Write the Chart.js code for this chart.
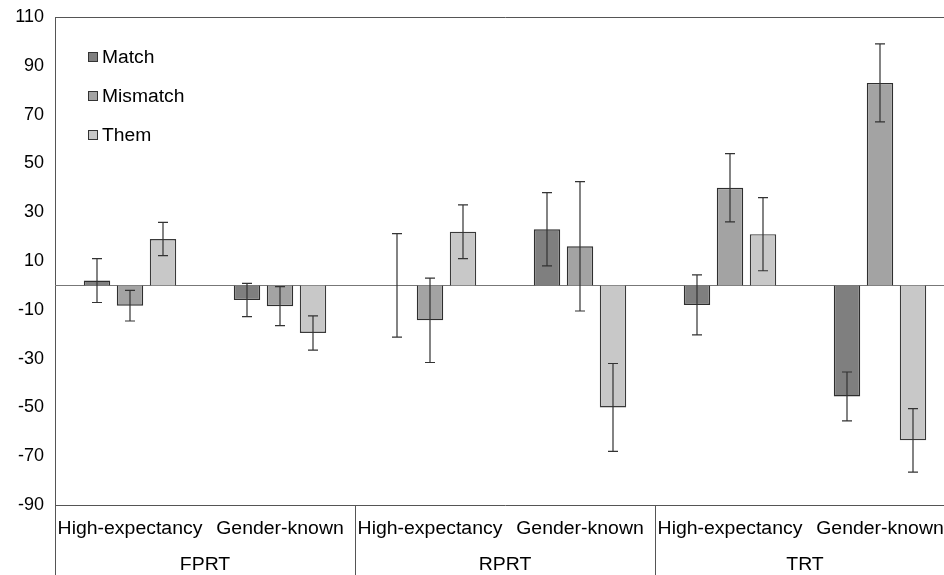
<!DOCTYPE html>
<html>
<head>
<meta charset="utf-8">
<script src="https://cdn.jsdelivr.net/npm/chart.js@4.4.1/dist/chart.umd.min.js"></script>
<style>
  html, body { margin: 0; padding: 0; background: #fff; overflow: hidden; width: 944px; height: 575px; }
  #wrap { width: 960px; height: 575px; }
</style>
</head>
<body>
<div id="wrap"><canvas id="c" width="960" height="575"></canvas></div>
<script>
// ---- Data ----
const categories = ["High-expectancy", "Gender-known", "High-expectancy", "Gender-known", "High-expectancy", "Gender-known"];
const groups = ["FPRT", "RPRT", "TRT"];
const seriesNames = ["Match", "Mismatch", "Them"];
const matchValues    = [2, -6, 0, 23, -8, -45.5];
const mismatchValues = [-8.3, -8.5, -14.3, 16, 40, 83];
const themValues     = [19, -19.5, 22, -50, 21, -63.5];
const matchErrors    = [9, 6.8, 21.2, 15, 12.3, 10];
const mismatchErrors = [6.3, 8, 17.3, 26.5, 14, 16];
const themErrors     = [6.8, 7, 11, 18, 15, 13];
const yTicks = [-90, -70, -50, -30, -10, 10, 30, 50, 70, 90, 110];

const colors = ["#7f7f7f", "#a3a3a3", "#c8c8c8"];
const errs = [matchErrors, mismatchErrors, themErrors];
const FONT = '"Liberation Sans", Arial, sans-serif';

const errorBarPlugin = {
  id: 'errorBars',
  afterDatasetsDraw(chart) {
    const ctx = chart.ctx;
    const y = chart.scales.y;
    ctx.save();
    ctx.strokeStyle = '#333';
    ctx.lineWidth = 1.2;
    chart.data.datasets.forEach((ds, di) => {
      const meta = chart.getDatasetMeta(di);
      meta.data.forEach((bar, i) => {
        const v = ds.data[i], e = errs[di][i];
        const x = bar.x;
        const yt = y.getPixelForValue(v + e);
        const yb = y.getPixelForValue(v - e);
        ctx.beginPath();
        ctx.moveTo(x, yt); ctx.lineTo(x, yb);
        ctx.moveTo(x - 5, yt); ctx.lineTo(x + 5, yt);
        ctx.moveTo(x - 5, yb); ctx.lineTo(x + 5, yb);
        ctx.stroke();
      });
    });
    ctx.restore();
  }
};

function stretchedText(ctx, text, cx, cy, sx, align) {
  ctx.save();
  ctx.translate(cx, cy);
  ctx.scale(sx, 1);
  ctx.textAlign = align;
  ctx.fillText(text, 0, 0);
  ctx.restore();
}

const axisLabelPlugin = {
  id: 'axisLabels',
  afterDraw(chart) {
    const ctx = chart.ctx;
    const area = chart.chartArea;
    const x = chart.scales.x;
    const H = chart.height;
    ctx.save();
    ctx.strokeStyle = '#555';
    ctx.lineWidth = 1;
    const half = (x.getPixelForValue(1) - x.getPixelForValue(0)) / 2;
    const divs = [x.getPixelForValue(0) - half, x.getPixelForValue(2) - half, x.getPixelForValue(4) - half, x.getPixelForValue(5) + half];
    divs.forEach(d => {
      ctx.beginPath();
      ctx.moveTo(Math.round(d) + 0.5, area.bottom);
      ctx.lineTo(Math.round(d) + 0.5, H);
      ctx.stroke();
    });
    ctx.fillStyle = '#000';
    ctx.font = '18px ' + FONT;
    ctx.textBaseline = 'middle';
    categories.forEach((c, i) => {
      stretchedText(ctx, c, x.getPixelForValue(i), area.bottom + 24, 1.08, 'center');
    });
    groups.forEach((g, gi) => {
      const cx = (x.getPixelForValue(gi * 2) + x.getPixelForValue(gi * 2 + 1)) / 2;
      stretchedText(ctx, g, cx, area.bottom + 60, 1.08, 'center');
    });
    // legend
    ctx.font = '18px ' + FONT;
    const ly = [57, 96, 135];
    seriesNames.forEach((n, i) => {
      ctx.fillStyle = colors[i];
      ctx.fillRect(88, ly[i] - 5, 10, 10);
      ctx.strokeStyle = '#333';
      ctx.strokeRect(88.5, ly[i] - 4.5, 9, 9);
      ctx.fillStyle = '#000';
      stretchedText(ctx, n, 102, ly[i] + 1, 1.07, 'left');
    });
    ctx.restore();
  }
};

new Chart(document.getElementById('c'), {
  type: 'bar',
  data: {
    labels: categories,
    datasets: [
      { label: seriesNames[0], data: matchValues, backgroundColor: colors[0], borderColor: '#2e2e2e', borderWidth: 1.4 },
      { label: seriesNames[1], data: mismatchValues, backgroundColor: colors[1], borderColor: '#2e2e2e', borderWidth: 1.4 },
      { label: seriesNames[2], data: themValues, backgroundColor: colors[2], borderColor: '#3a3a3a', borderWidth: 1.4 }
    ]
  },
  options: {
    responsive: false,
    animation: false,
    devicePixelRatio: 1,
    layout: { padding: { top: 17, right: 5, bottom: 70, left: 0 } },
    datasets: { bar: { categoryPercentage: 0.66, barPercentage: 0.8 } },
    plugins: { legend: { display: false }, tooltip: { enabled: false } },
    scales: {
      x: { display: false },
      y: {
        min: -90, max: 110,
        afterBuildTicks(scale) { scale.ticks = yTicks.map(v => ({ value: v })); },
        afterFit(scale) { scale.width = 55; scale.paddingTop = 0; scale.paddingBottom = 0; },
        ticks: { color: '#000', padding: 11, font: { size: 18, family: FONT } },
        grid: {
          drawTicks: false,
          color: (c) => (c.tick && (c.tick.value === 110 || c.tick.value === -90)) ? '#555' : 'rgba(0,0,0,0)',
          lineWidth: 1
        },
        border: { display: true, color: '#555' }
      }
    }
  },
  plugins: [errorBarPlugin, axisLabelPlugin, {
    id: 'zeroLine',
    beforeDatasetsDraw(chart) {
      const ctx = chart.ctx, a = chart.chartArea;
      const y0 = Math.round(chart.scales.y.getPixelForValue(0)) + 0.5;
      ctx.save();
      ctx.strokeStyle = '#777';
      ctx.lineWidth = 1;
      ctx.beginPath(); ctx.moveTo(a.left, y0); ctx.lineTo(a.right, y0); ctx.stroke();
      ctx.restore();
    }
  }]
});
</script>
</body>
</html>
